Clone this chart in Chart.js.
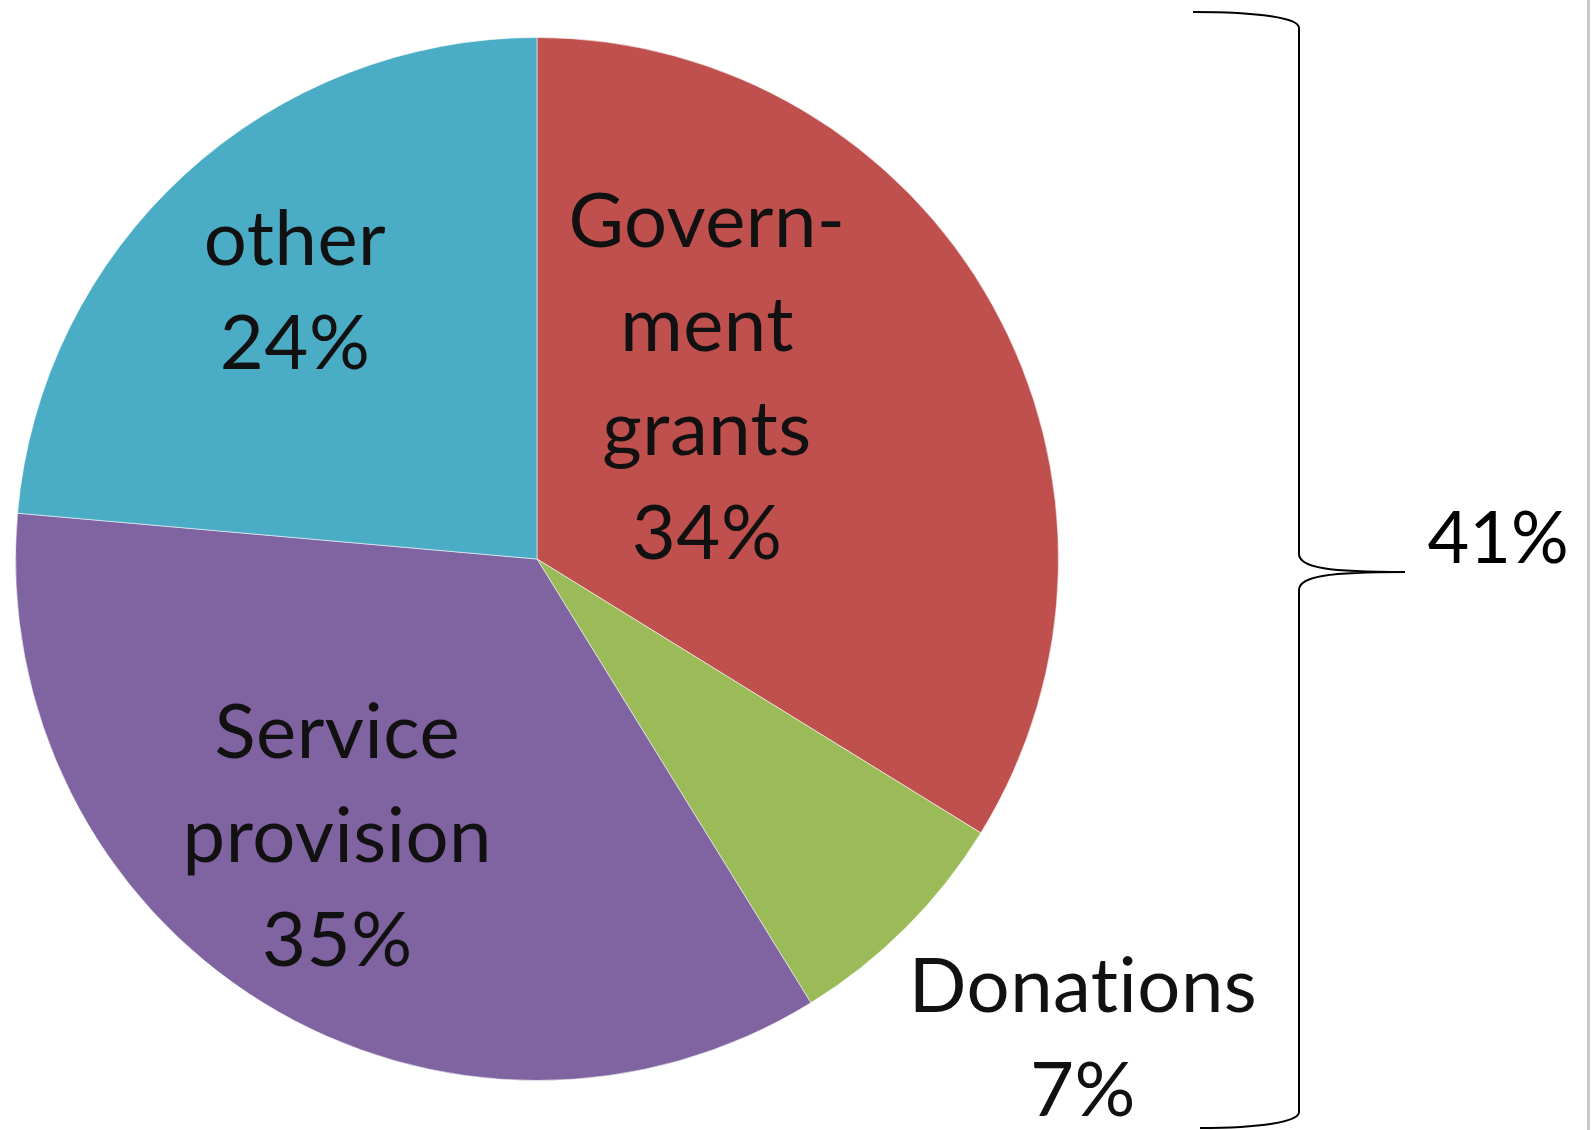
<!DOCTYPE html>
<html lang="en">
<head>
    <meta charset="UTF-8">
    <title>Income sources</title>
    <script src="https://cdn.jsdelivr.net/npm/chart.js"></script>
    <style>
        html, body { margin: 0; padding: 0; background: #fff; overflow: hidden; }
        #wrap { position: relative; width: 1593px; height: 1130px; }
        #edge { position: absolute; left: 1587px; top: 0; width: 3px; height: 1130px; background: #c8c8c8; }
    </style>
</head>
<body>
    <div id="wrap">
        <canvas id="pieChart" width="1593" height="1130"></canvas>
        <div id="edge"></div>
    </div>

    <script>
        const categories = ['Government grants', 'Donations', 'Service provision', 'other'];
        const labelLines = [['Govern-', 'ment', 'grants'], ['Donations'], ['Service', 'provision'], ['other']];
        const shares = [33.8, 7.4, 35.2, 23.6];
        const bracketLabel = '41%';

        const colors = ['#C0504D', '#9BBB59', '#8064A2', '#4BACC6'];
        // label block centre, relative to pie centre, in radius units
        const labelOffsets = [[0.326, -0.346], [1.047, 0.922], [-0.383, 0.534], [-0.464, -0.512]];

        // Slice labels
        const sliceLabels = {
            id: 'sliceLabels',
            afterDatasetsDraw(chart) {
                const ctx = chart.ctx;
                const arcs = chart.getDatasetMeta(0).data;
                const lineH = 104;
                ctx.save();
                ctx.fillStyle = '#111';
                ctx.font = '76px Lato';
                ctx.letterSpacing = '0.5px'; // keeps "ti" from turning into a ligature
                ctx.textAlign = 'center';
                ctx.textBaseline = 'middle';
                arcs.forEach((arc, i) => {
                    const lines = labelLines[i].concat([Math.round(shares[i]) + '%']);
                    const cx = arc.x + labelOffsets[i][0] * arc.outerRadius;
                    const cy = arc.y + labelOffsets[i][1] * arc.outerRadius;
                    const y0 = cy - (lines.length - 1) * lineH / 2;
                    lines.forEach((t, k) => ctx.fillText(t, cx, y0 + k * lineH));
                });
                ctx.restore();
            }
        };

        // Curly brace on the right with its total
        const bracePlugin = {
            id: 'brace',
            afterDraw(chart) {
                const ctx = chart.ctx;
                const x = 1299, top = 12, bot = 1128, midY = 572;
                ctx.save();
                ctx.strokeStyle = '#000';
                ctx.lineWidth = 2;
                ctx.beginPath();
                ctx.moveTo(1193, top);
                ctx.bezierCurveTo(1260, top, x, top + 6, x, top + 16);
                ctx.lineTo(x, midY - 18);
                ctx.bezierCurveTo(x, midY - 4, 1330, midY, 1405, midY);
                ctx.moveTo(1405, midY);
                ctx.bezierCurveTo(1330, midY, x, midY + 4, x, midY + 18);
                ctx.lineTo(x, bot - 16);
                ctx.bezierCurveTo(x, bot - 6, 1260, bot, 1200, bot);
                ctx.stroke();
                ctx.fillStyle = '#000';
                ctx.font = '72px Lato';
                ctx.textAlign = 'center';
                ctx.textBaseline = 'middle';
                ctx.fillText(bracketLabel, 1498, 540);
                ctx.restore();
            }
        };

        new Chart(document.getElementById('pieChart'), {
            type: 'pie',
            data: {
                labels: categories,
                datasets: [{
                    data: shares,
                    backgroundColor: colors,
                    borderColor: 'rgba(255,255,255,0.55)',
                    borderWidth: 1
                }]
            },
            options: {
                responsive: false,
                animation: false,
                layout: { padding: { left: 15, top: 37, right: 534, bottom: 49 } },
                plugins: { legend: { display: false }, tooltip: { enabled: false } }
            },
            plugins: [sliceLabels, bracePlugin]
        });
    </script>
</body>
</html>
